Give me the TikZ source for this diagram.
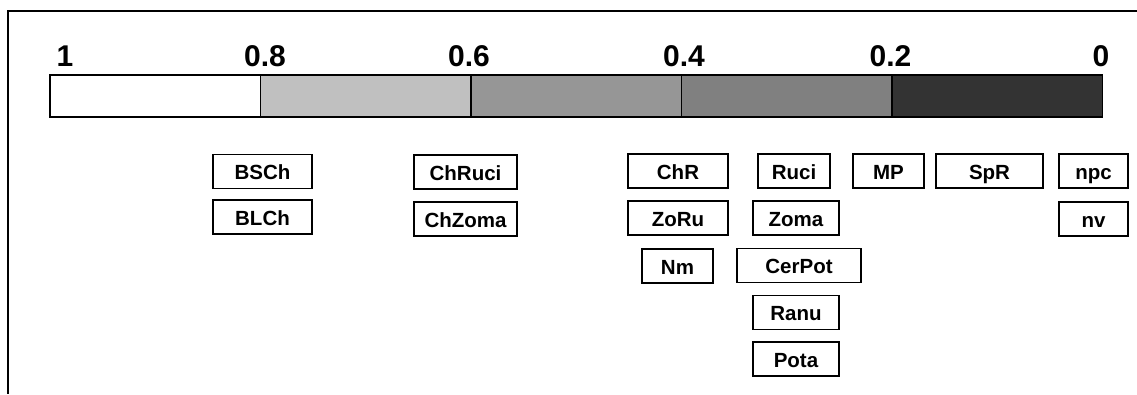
\documentclass[tikz,border=0pt]{standalone}
\usepackage{fontspec}
\setmainfont{Liberation Sans}
\definecolor{seg1}{HTML}{FFFFFF}
\definecolor{seg2}{HTML}{C0C0C0}
\definecolor{seg3}{HTML}{969696}
\definecolor{seg4}{HTML}{808080}
\definecolor{seg5}{HTML}{333333}
\begin{document}
\begin{tikzpicture}[x=1pt,y=-1pt,
  scalelabel/.style={anchor=base,inner sep=0pt,font=\fontsize{30}{36}\selectfont\bfseries},
  seg/.style={draw=black,line width=1.4pt},
  catbox/.style={draw=black,line width=1.9pt,fill=white,inner sep=0pt,
     text height=16.5pt,text depth=0pt,minimum height=34pt,
     font=\fontsize{20.5}{24}\selectfont\bfseries}]
\useasboundingbox (0,0) rectangle (1137,394);
% frame
\coordinate (ftr) at (1137,11);
\coordinate (ftl) at (8,11);
\coordinate (fbl) at (8,394);
\draw[line width=2.4pt] (ftr) -- (ftl) -- (fbl);
% scale bar
\coordinate (b0) at (50,75);
\coordinate (b1) at (260.5,75);
\coordinate (b2) at (471,75);
\coordinate (b3) at (681.5,75);
\coordinate (b4) at (892,75);
\coordinate (b5) at (1102.5,75);
\draw[seg,fill=seg1] (50,75) rectangle (260.5,117);
\draw[seg,fill=seg2] (260.5,75) rectangle (471,117);
\draw[seg,fill=seg3] (471,75) rectangle (681.5,117);
\draw[seg,fill=seg4] (681.5,75) rectangle (892,117);
\draw[seg,fill=seg5] (892,75) rectangle (1102.5,117);
% scale labels
\node[scalelabel] (l1) at (65,66) {1};
\node[scalelabel] (l08) at (265,66) {0.8};
\node[scalelabel] (l06) at (469,66) {0.6};
\node[scalelabel] (l04) at (684,66) {0.4};
\node[scalelabel] (l02) at (890.5,66) {0.2};
\node[scalelabel] (l0) at (1101,66) {0};
% boxes
\node[catbox,minimum width=99pt] (bsch) at (262.5,171.5) {BSCh};
\node[catbox,minimum width=99pt] (blch) at (262.5,217) {BLCh};
\node[catbox,minimum width=103pt] (chruci) at (465.5,172) {ChRuci};
\node[catbox,minimum width=103pt] (chzoma) at (465.5,219) {ChZoma};
\node[catbox,minimum width=100pt] (chr) at (678,171) {ChR};
\node[catbox,minimum width=100pt] (zoru) at (678,218) {ZoRu};
\node[catbox,minimum width=71pt] (nm) at (677.5,266) {Nm};
\node[catbox,minimum width=72pt] (ruci) at (794,171) {Ruci};
\node[catbox,minimum width=86pt] (zoma) at (796,218) {Zoma};
\node[catbox,minimum width=124pt] (cerpot) at (799,265.5) {CerPot};
\node[catbox,minimum width=86pt] (ranu) at (796,312.5) {Ranu};
\node[catbox,minimum width=86pt] (pota) at (796,359) {Pota};
\node[catbox,minimum width=71pt] (mp) at (888.5,171) {MP};
\node[catbox,minimum width=107pt] (spr) at (989.5,171) {SpR};
\node[catbox,minimum width=69pt] (npc) at (1093.5,171) {npc};
\node[catbox,minimum width=69pt] (nv) at (1093.5,219) {nv};
\end{tikzpicture}
\end{document}
